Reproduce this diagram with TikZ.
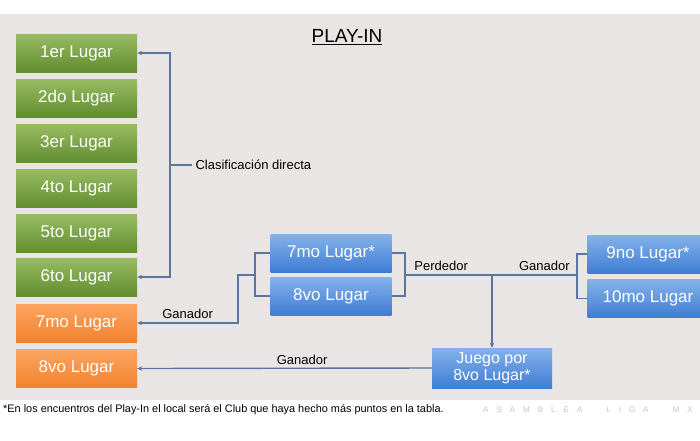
\documentclass[tikz,border=0pt]{standalone}
\usepackage{fontspec}
\setmainfont{Liberation Sans}
\usetikzlibrary{arrows.meta}
\definecolor{panelgray}{HTML}{E9E5E5}
\definecolor{linkblue}{HTML}{5A76A0}
\definecolor{greentop}{HTML}{98BB62}
\definecolor{greenbot}{HTML}{628D30}
\definecolor{orangetop}{HTML}{FCA560}
\definecolor{orangebot}{HTML}{F3822E}
\definecolor{bluetop}{HTML}{84B2EA}
\definecolor{bluebot}{HTML}{3F7DD4}
\newcommand{\wmsp}{\hspace{8pt}}
\begin{document}
\begin{tikzpicture}[x=1pt, y=-1pt,
    place/.style={rectangle, minimum width=121pt, minimum height=38pt, align=center, text=white, font=\fontsize{17}{18}\selectfont},
    greenbox/.style={place, top color=greentop, bottom color=greenbot},
    orangebox/.style={place, top color=orangetop, bottom color=orangebot},
    bluebox/.style={place, top color=bluetop, bottom color=bluebot},
    tag/.style={font=\fontsize{13}{15}\selectfont},
    link/.style={draw=linkblue, line width=1.4pt},
    arrow/.style={link, -{Stealth[length=5pt, width=4.5pt]}}
]
\fill[white] (0,0) rectangle (700,440);
\useasboundingbox (0,0) rectangle (700,440);
\fill[panelgray] (0,14) rectangle (700,400);

\node[font=\fontsize{19}{21}\selectfont] (title) at (347,37) {\underline{PLAY-IN}};

% tabla
\node[greenbox] (g1) at (76.5,53) {1er Lugar};
\node[greenbox] (g2) at (76.5,98) {2do Lugar};
\node[greenbox] (g3) at (76.5,143.5) {3er Lugar};
\node[greenbox] (g4) at (76.5,188.5) {4to Lugar};
\node[greenbox] (g5) at (76.5,233.5) {5to Lugar};
\node[greenbox] (g6) at (76.5,277) {6to Lugar};
\node[orangebox] (o7) at (76.5,323) {7mo Lugar};
\node[orangebox] (o8) at (76.5,368.5) {8vo Lugar};

% play-in
\node[bluebox] (b7) at (331,253) {7mo Lugar*};
\node[bluebox] (b8) at (331,296) {8vo Lugar};
\node[bluebox] (n9) at (648,254) {9no Lugar*};
\node[bluebox] (n10) at (648,298.5) {10mo Lugar};
\node[bluebox, minimum width=120pt, minimum height=40pt, font=\fontsize{16}{17}\selectfont] (juego) at (492,368) {Juego por\\8vo Lugar*};

\coordinate (cd) at (170,165);
\draw[arrow] (cd) |- (g1.east);
\draw[arrow] (cd) |- (g6.east);
\node[tag, anchor=west] (cdtext) at (192,165) {Clasificación directa};
\draw[link] (cd) -- (cdtext.west);

\coordinate (bl) at (255,275);
\coordinate (bk) at (238,275);
\draw[link] (b7.west) -| (bl);
\draw[link] (b8.west) -| (bl);
\draw[arrow] (bl) -- (bk) |- node[tag, above, pos=0.75] {Ganador} (o7.east);

\coordinate (br) at (405,275);
\coordinate (bg) at (577,275);
\draw[link] (b7.east) -| (br);
\draw[link] (b8.east) -| (br);
\draw[link] (n9.west) -| (bg);
\draw[link] (n10.west) -| (bg);
\draw[link] (br) -- node[tag, above, pos=0.21] {Perdedor} node[tag, above, pos=0.81] {Ganador} (bg);
\draw[arrow] (juego.north |- br) -- (juego.north);
\draw[arrow] (juego.west) -- node[tag, above, pos=0.44] {Ganador} (o8.east);

\node[anchor=west, inner sep=0, font=\fontsize{10.9}{12}\selectfont] (note) at (3,410) {*En los encuentros del Play-In el local será el Club que haya hecho más puntos en la tabla.};
\node[anchor=west, inner sep=0, text=gray!45, font=\fontsize{8}{10}\selectfont] (wm) at (483,410) {A\wmsp S\wmsp A\wmsp M\wmsp B\wmsp L\wmsp E\wmsp A\wmsp\wmsp\wmsp L\wmsp I\wmsp G\wmsp A\wmsp\wmsp\wmsp M\wmsp X};
\end{tikzpicture}
\end{document}
